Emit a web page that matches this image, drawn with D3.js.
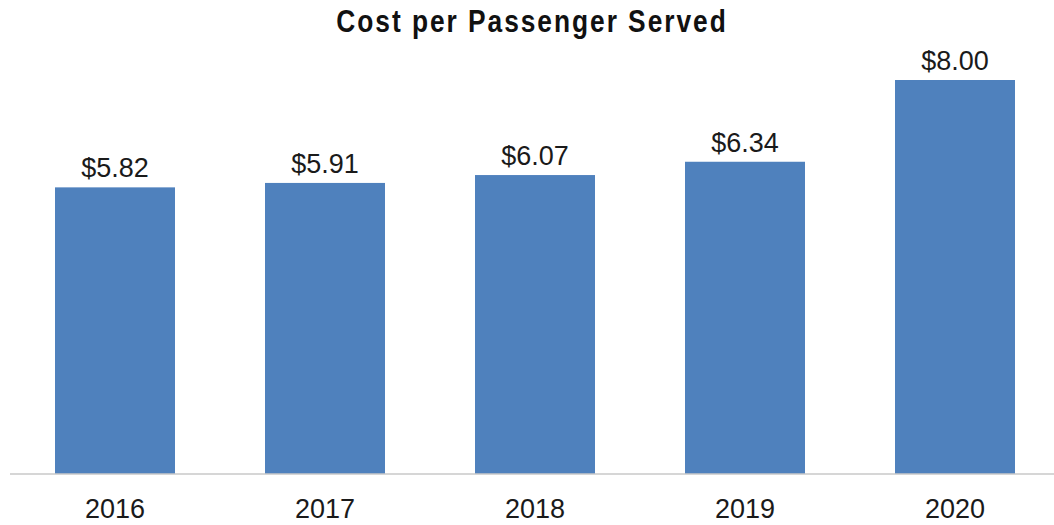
<!DOCTYPE html>
<html>
<head>
<meta charset="utf-8">
<script src="https://cdn.jsdelivr.net/npm/d3@7"></script>
<style>
  html, body { margin: 0; padding: 0; background: #fff; }
  svg { display: block; }
</style>
</head>
<body>
<div id="chart"></div>
<script>
// Annual cost per passenger served
const years = ["2016", "2017", "2018", "2019", "2020"];
const costs = [5.82, 5.91, 6.07, 6.34, 8.00];
const title = "Cost per Passenger Served";

const width = 1054, height = 525;
const baseY = 474;

const svg = d3.select("#chart").append("svg")
  .attr("width", width)
  .attr("height", height);

const x = d3.scaleBand()
  .domain(years)
  .range([10, 1060])
  .paddingInner(90 / 210)
  .paddingOuter(45 / 210);

const y = d3.scaleLinear()
  .domain([0, 8])
  .range([baseY, 80]);

// Title, set in a condensed bold face
const condense = 0.85;
svg.append("text")
  .attr("transform", `translate(532,32) scale(${condense},1)`)
  .attr("text-anchor", "middle")
  .attr("font-family", "'Liberation Sans', Arial, sans-serif")
  .attr("font-weight", "bold")
  .attr("font-size", 31)
  .attr("letter-spacing", 2.3)
  .attr("fill", "#111")
  .text(title);

// Bars
svg.append("g")
  .selectAll("rect")
  .data(costs)
  .join("rect")
  .attr("x", (d, i) => x(years[i]))
  .attr("y", d => y(d))
  .attr("width", x.bandwidth())
  .attr("height", d => y(0) - y(d))
  .attr("fill", "#4f81bd");

// Value labels
svg.append("g")
  .selectAll("text")
  .data(costs)
  .join("text")
  .attr("x", (d, i) => x(years[i]) + x.bandwidth() / 2)
  .attr("y", d => y(d) - 10)
  .attr("text-anchor", "middle")
  .attr("font-family", "'Liberation Sans', Arial, sans-serif")
  .attr("font-size", 27)
  .attr("fill", "#1a1a1a")
  .text(d => "$" + d.toFixed(2));

// Category axis
const xAxis = svg.append("g")
  .attr("transform", `translate(0,${baseY})`)
  .call(d3.axisBottom(x).tickSize(0).tickPadding(0));
xAxis.select(".domain").remove();
xAxis.append("line")
  .attr("x1", 10).attr("x2", width)
  .attr("y1", 0).attr("y2", 0)
  .attr("stroke", "#c8c8c8")
  .attr("stroke-width", 1.5);
xAxis.selectAll(".tick text")
  .attr("y", 44)
  .attr("dy", 0)
  .attr("font-family", "'Liberation Sans', Arial, sans-serif")
  .attr("font-size", 27)
  .attr("fill", "#1a1a1a");
</script>
</body>
</html>
